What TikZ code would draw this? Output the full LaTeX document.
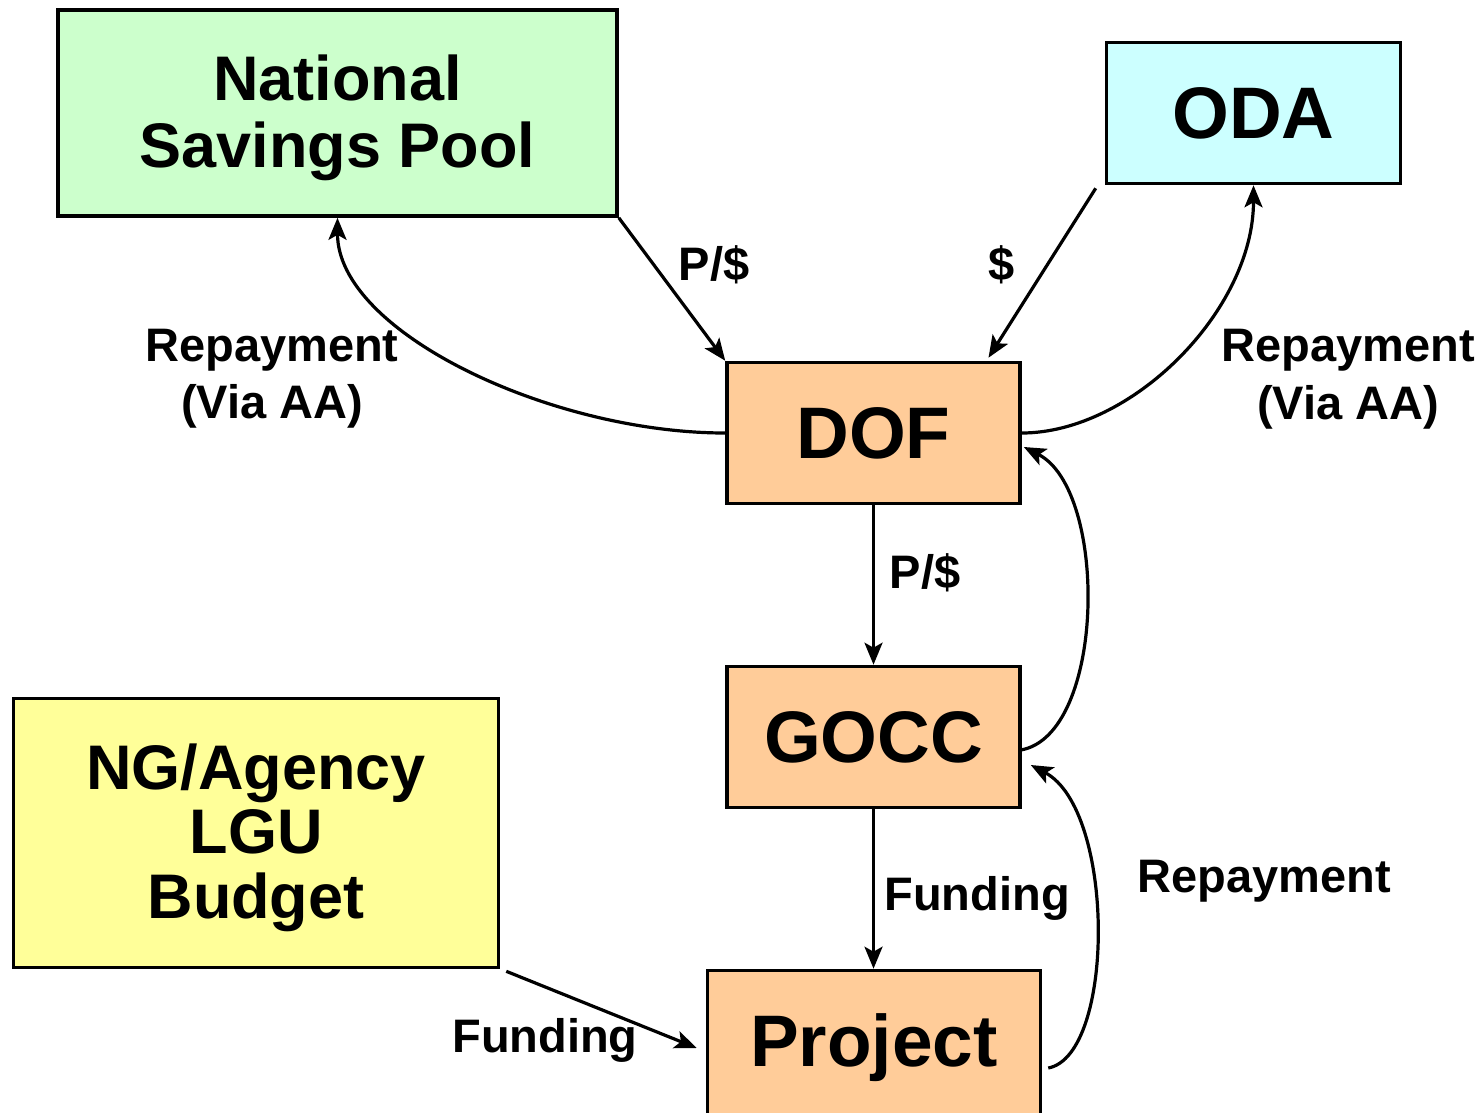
\documentclass[tikz,border=0pt]{standalone}
\usepackage{fontspec}
\setmainfont{Liberation Sans}
\usetikzlibrary{arrows.meta,calc}
\definecolor{poolgreen}{HTML}{CCFFCC}
\definecolor{odacyan}{HTML}{CCFFFF}
\definecolor{unitorange}{HTML}{FFCC99}
\definecolor{budgetyellow}{HTML}{FFFF99}
\begin{document}
\begin{tikzpicture}[x=1pt,y=-1pt,
  box/.style={draw=black, line width=3.6pt, inner sep=0pt, align=center,
    font=\bfseries\fontsize{73}{76}\selectfont},
  flow/.style={line width=3.2pt, -{Stealth[length=22pt,width=18pt,inset=5pt]}},
  lbl/.style={anchor=base, inner sep=0pt, font=\bfseries\fontsize{47}{52}\selectfont}]

\useasboundingbox (0,0) rectangle (1484,1112);
\clip (0,0) rectangle (1484,1112);

% boxes
\node[box, fill=poolgreen, minimum width=559pt, minimum height=206pt,
  font=\bfseries\fontsize{63}{67}\selectfont] (nsp) at (337.5,113)
  {\rule{0pt}{56pt}National\\Savings Pool};
\node[box, fill=odacyan, minimum width=294pt, minimum height=141pt] (oda) at (1253.5,113) {ODA};
\node[box, fill=unitorange, minimum width=293pt, minimum height=141pt] (dof) at (873.5,433) {DOF};
\node[box, fill=unitorange, minimum width=293pt, minimum height=141pt] (gocc) at (873.5,737) {GOCC};
\node[box, fill=unitorange, minimum width=333pt, minimum height=155pt] (proj) at (874,1048) {Project};
\node[box, fill=budgetyellow, minimum width=485pt, minimum height=269pt,
  font=\bfseries\fontsize{63}{64.5}\selectfont] (ng) at (256,833)
  {\rule{0pt}{55pt}NG/Agency\\LGU\\Budget};

% money flows
\draw[flow] (nsp.south east) -- (dof.north west);
\draw[flow] ($(oda.south west)+(-9,3)$) -- ($(dof.north)+(115,-3)$);
\draw[flow] (dof.south) -- (gocc.north);
\draw[flow] (gocc.south) -- (gocc.south |- proj.north);
\draw[flow] ($(ng.south east)+(6,2)$) -- ($(proj.west)+(-9,0)$);

% repayments
\draw[flow] (dof.west) .. controls +(-175,0) and +(0,114) .. (nsp.south);
\draw[flow] (dof.east) .. controls +(110,0) and +(0,125) .. (oda.south);
\draw[flow] ($(gocc.east)+(-1,13)$) .. controls +(85,-15) and +(85,43) .. ($(dof.east)+(2,14)$);
\draw[flow] ($(proj.east)+(6,20)$) .. controls +(67,-13) and +(85,45) .. ($(gocc.east)+(9,28)$);

% labels
\node[lbl] (lnsp) at (714,280) {P/\$};
\node[lbl] (loda) at (1002,280) {\$};
\node[lbl] (lrepa1) at (272,361) {Repayment};
\node[lbl] (lrepa2) at (272,418) {(Via AA)};
\node[lbl] (lrepb1) at (1348,361) {Repayment};
\node[lbl] (lrepb2) at (1348,419) {(Via AA)};
\node[lbl] (ldof) at (925,588) {P/\$};
\node[lbl] (lgocc) at (977,910) {Funding};
\node[lbl] (lrepc) at (1264,892) {Repayment};
\node[lbl] (lng) at (545,1052) {Funding};
\end{tikzpicture}
\end{document}
